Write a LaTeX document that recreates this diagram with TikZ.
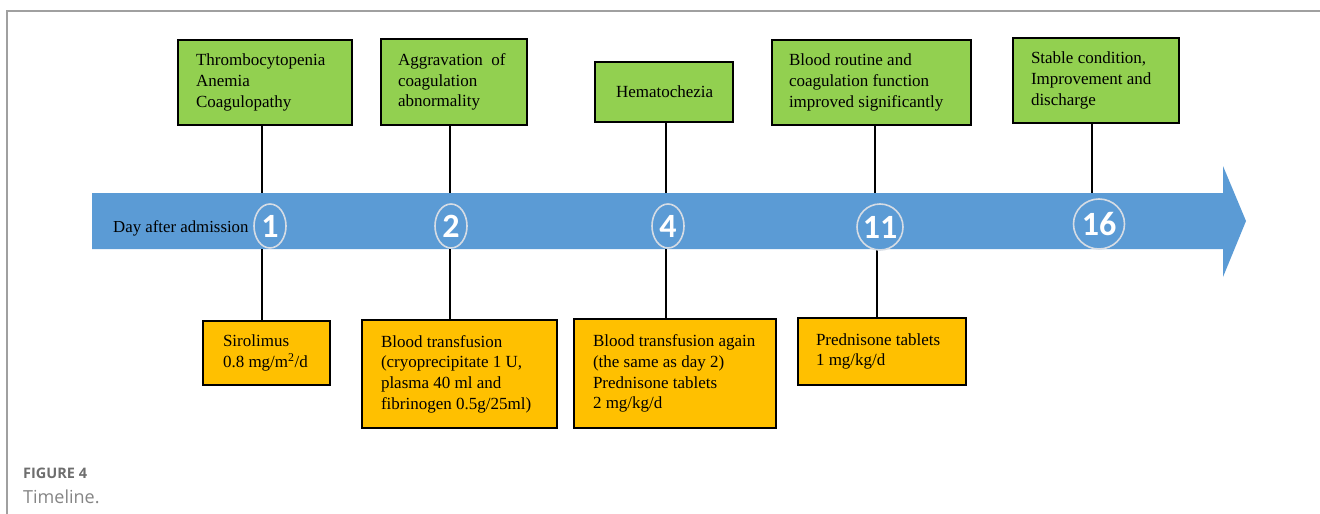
\documentclass[tikz,border=0pt]{standalone}
\usepackage{fontspec}
\setmainfont{Liberation Serif}
\newfontfamily\capfont{Open Sans}
\newfontfamily\numfont{Carlito}
\usetikzlibrary{shapes.geometric}
\definecolor{gfill}{HTML}{92D050}
\definecolor{ofill}{HTML}{FFC000}
\definecolor{afill}{HTML}{5B9BD5}
\definecolor{framegray}{HTML}{A0A0A0}
\definecolor{capgray}{HTML}{6E6E6E}
\definecolor{capgraylight}{HTML}{858585}
\definecolor{circgray}{HTML}{D6DCE4}
\begin{document}
\begin{tikzpicture}[x=1pt,y=-1pt,
  gbox/.style={draw=black, line width=2.4pt, fill=gfill, rectangle, inner sep=0pt},
  obox/.style={draw=black, line width=2.4pt, fill=ofill, rectangle, inner sep=0pt},
  txt/.style={anchor=west, align=left, inner sep=0pt, font=\fontsize{17}{20.7}\selectfont},
  conn/.style={draw=black, line width=2pt},
  daycirc/.style={draw=circgray, line width=1.6pt, ellipse, inner sep=0pt},
  daynum/.style={text=white, font=\numfont\bfseries\fontsize{34}{34}\selectfont, inner sep=0pt},
]
\useasboundingbox (0,0) rectangle (1320,514);
% frame
\draw[framegray, line width=1.3pt] (7,514) -- (7,11) -- (1320,11);
% timeline arrow
\fill[afill] (92,193) -- (1223,193) -- (1223,166) -- (1246,221) -- (1223,277) -- (1223,249) -- (92,249) -- cycle;
\node[anchor=base west, inner sep=0pt, font=\fontsize{16.8}{20}\selectfont] (dayl) at (113,232) {Day after admission};
% connector end points on the arrow
\coordinate (t1) at (262,193); \coordinate (t2) at (450,193); \coordinate (t3) at (666,193);
\coordinate (t4) at (875,193); \coordinate (t5) at (1092,193);
\coordinate (b1) at (262,249); \coordinate (b2) at (450,249); \coordinate (b3) at (666,249);
\coordinate (b4) at (877,249);
% green boxes
\node[gbox, minimum width=174, minimum height=85] (g1) at (265,82.5) {};
\node[gbox, minimum width=146, minimum height=86] (g2) at (454,82) {};
\node[gbox, minimum width=138, minimum height=60] (g3) at (664,92) {};
\node[gbox, minimum width=199, minimum height=85] (g4) at (871.5,82.5) {};
\node[gbox, minimum width=166, minimum height=85] (g5) at (1096,80.5) {};
% orange boxes
\node[obox, minimum width=127, minimum height=64] (o1) at (266.5,353) {};
\node[obox, minimum width=195, minimum height=108] (o2) at (459.5,374) {};
\node[obox, minimum width=202, minimum height=109] (o3) at (675,373.5) {};
\node[obox, minimum width=168, minimum height=67] (o4) at (882,351.5) {};
% connectors
\draw[conn] (g1.south -| t1) -- (t1);
\draw[conn] (g2.south -| t2) -- (t2);
\draw[conn] (g3.south -| t3) -- (t3);
\draw[conn] (g4.south -| t4) -- (t4);
\draw[conn] (g5.south -| t5) -- (t5);
\draw[conn] (b1) -- (o1.north -| b1);
\draw[conn] (b2) -- (o2.north -| b2);
\draw[conn] (b3) -- (o3.north -| b3);
\draw[conn] (b4) -- (o4.north -| b4);
% texts
\node[txt] (g1t) at ([xshift=19pt]g1.west) {Thrombocytopenia\\Anemia\\Coagulopathy};
\node[txt] (g2t) at ([xshift=18pt]g2.west) {Aggravation\ \ of\\coagulation\\abnormality};
\node[txt] (g3t) at ([xshift=22pt]g3.west) {Hematochezia};
\node[txt] (g4t) at ([xshift=18pt]g4.west) {Blood routine and\\coagulation function\\improved significantly};
\node[txt] (g5t) at ([xshift=19pt]g5.west) {Stable condition,\\Improvement and\\discharge};
\node[txt] (o1t) at ([xshift=21pt]o1.west) {Sirolimus\\0.8 mg/m\textsuperscript{2}/d};
\node[txt] (o2t) at ([xshift=20pt]o2.west) {Blood transfusion\\(cryoprecipitate 1 U,\\plasma 40 ml and\\fibrinogen 0.5g/25ml)};
\node[txt] (o3t) at ([xshift=20pt]o3.west) {Blood transfusion again\\(the same as day 2)\\Prednisone tablets\\2 mg/kg/d};
\node[txt] (o4t) at ([xshift=19pt]o4.west) {Prednisone tablets\\1 mg/kg/d};
% day circles
\node[daycirc, minimum width=32, minimum height=44] (d1) at (270,226) {};
\node[daycirc, minimum width=32, minimum height=44] (d2) at (451,226) {};
\node[daycirc, minimum width=32, minimum height=44] (d4) at (668,226) {};
\node[daycirc, minimum width=46, minimum height=46] (d11) at (880,227) {};
\node[daycirc, minimum width=51, minimum height=50] (d16) at (1099,224) {};
\node[daynum] (n1) at (d1) {1};
\node[daynum] (n2) at (d2) {2};
\node[daynum] (n4) at (d4) {4};
\node[daynum] (n11) at (d11) {11};
\node[daynum] (n16) at (d16) {16};
% caption
\node[anchor=base west, inner sep=0pt, text=capgray, font=\capfont\bfseries\fontsize{14.5}{16}\selectfont] (fig) at (23,478) {FIGURE 4};
\node[anchor=base west, inner sep=0pt, text=capgraylight, font=\capfont\fontsize{18}{20}\selectfont] (cap) at (23,503) {Timeline.};
\end{tikzpicture}
\end{document}
